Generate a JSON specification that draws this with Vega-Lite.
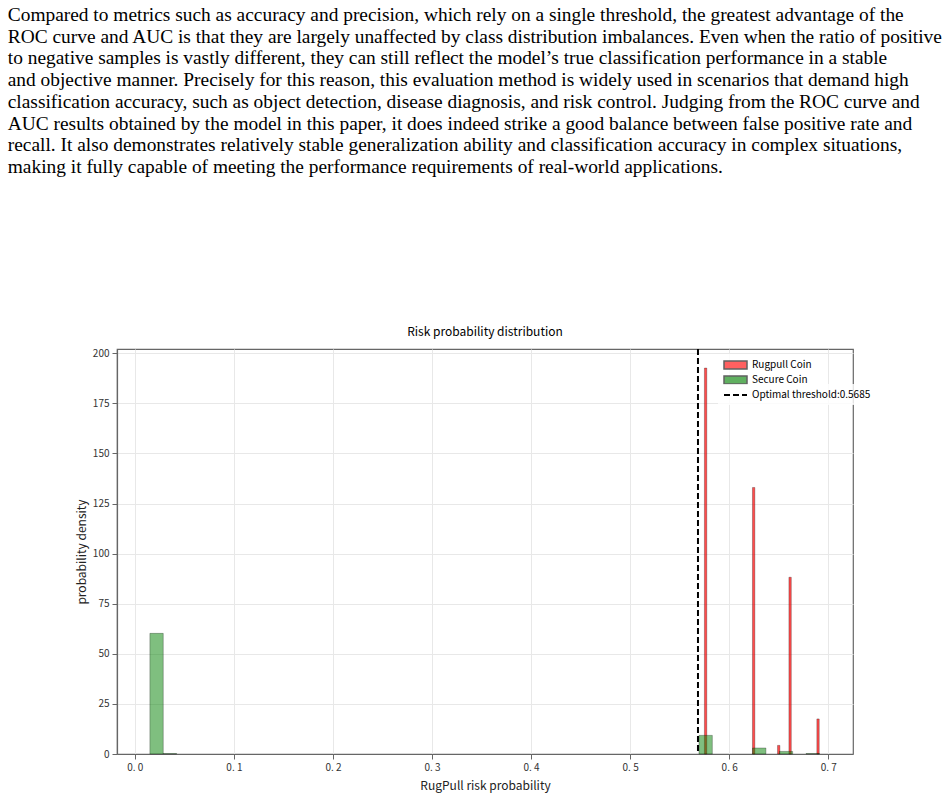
{
  "$schema": "https://vega.github.io/schema/vega-lite/v6.json",
  "background": "white",
  "padding": {"left": 7, "top": 5, "right": 5, "bottom": 5},
  "title": {
    "text": [
      "Compared to metrics such as accuracy and precision, which rely on a single threshold, the greatest advantage of the",
      "ROC curve and AUC is that they are largely unaffected by class distribution imbalances. Even when the ratio of positive",
      "to negative samples is vastly different, they can still reflect the model’s true classification performance in a stable",
      "and objective manner. Precisely for this reason, this evaluation method is widely used in scenarios that demand high",
      "classification accuracy, such as object detection, disease diagnosis, and risk control. Judging from the ROC curve and",
      "AUC results obtained by the model in this paper, it does indeed strike a good balance between false positive rate and",
      "recall. It also demonstrates relatively stable generalization ability and classification accuracy in complex situations,",
      "making it fully capable of meeting the performance requirements of real-world applications."
    ],
    "anchor": "start",
    "frame": "bounds",
    "dx": -67,
    "offset": 148,
    "font": "Liberation Serif",
    "fontSize": 19.4,
    "fontWeight": "normal",
    "lineHeight": 21.7,
    "color": "black"
  },
  "vconcat": [
    {
      "width": 736,
      "height": 405,
      "title": {
        "text": "Risk probability distribution",
        "font": "Noto Sans CJK SC",
        "fontSize": 12,
        "fontWeight": "normal",
        "color": "black",
        "offset": 9
      },
      "layer": [
        {
          "data": {
            "values": [
              {"series": "Rugpull Coin", "x0": 0.5750, "x1": 0.5774, "density": 192.6},
              {"series": "Rugpull Coin", "x0": 0.6235, "x1": 0.6259, "density": 133.0},
              {"series": "Rugpull Coin", "x0": 0.6488, "x1": 0.6512, "density": 4.3},
              {"series": "Rugpull Coin", "x0": 0.6603, "x1": 0.6627, "density": 88.2},
              {"series": "Rugpull Coin", "x0": 0.6885, "x1": 0.6909, "density": 17.5},
              {"series": "Secure Coin", "x0": 0.0152, "x1": 0.0287, "density": 60.2},
              {"series": "Secure Coin", "x0": 0.0287, "x1": 0.0422, "density": 0.25},
              {"series": "Secure Coin", "x0": 0.5695, "x1": 0.5830, "density": 9.3},
              {"series": "Secure Coin", "x0": 0.6236, "x1": 0.6371, "density": 3.0},
              {"series": "Secure Coin", "x0": 0.6506, "x1": 0.6641, "density": 1.3},
              {"series": "Secure Coin", "x0": 0.6776, "x1": 0.6911, "density": 0.25}
            ]
          },
          "mark": {"type": "bar", "stroke": "black", "strokeOpacity": 0.45, "strokeWidth": 0.6},
          "encoding": {
            "x": {
              "field": "x0",
              "type": "quantitative",
              "title": "RugPull risk probability",
              "scale": {"domain": [-0.018, 0.725], "nice": false, "zero": false},
              "axis": {
                "values": [0, 0.1, 0.2, 0.3, 0.4, 0.5, 0.6, 0.7],
                "labelExpr": "replace(format(datum.value, '.1f'), '.', '. ')"
              }
            },
            "x2": {"field": "x1"},
            "y": {
              "field": "density",
              "type": "quantitative",
              "title": "probability density",
              "scale": {"domain": [0, 202.1], "nice": false},
              "axis": {"values": [0, 25, 50, 75, 100, 125, 150, 175, 200]}
            },
            "y2": {"datum": 0},
            "color": {
              "field": "series",
              "type": "nominal",
              "scale": {"domain": ["Rugpull Coin", "Secure Coin"], "range": ["red", "green"]},
              "legend": {
                "title": null,
                "orient": "none",
                "legendX": 601,
                "legendY": 5,
                "padding": 5,
                "fillColor": "rgba(255,255,255,0.8)",
                "labelFont": "Noto Sans CJK SC",
                "labelFontSize": 10,
                "labelColor": "black",
                "symbolOffset": 6.5,
                "labelOffset": 10.5,
                "rowPadding": 1,
                "symbolType": "M-2.3,-0.8H2.3V0.8H-2.3Z",
                "symbolSize": 100,
                "symbolOpacity": 0.62
              }
            },
            "fillOpacity": {
              "field": "series",
              "type": "nominal",
              "scale": {"domain": ["Rugpull Coin", "Secure Coin"], "range": [0.7, 0.5]},
              "legend": null
            }
          }
        },
        {
          "data": {"values": [{"line": "Optimal threshold:0.5685", "threshold": 0.5685}]},
          "mark": {"type": "rule", "color": "black", "strokeWidth": 2},
          "encoding": {
            "x": {"field": "threshold", "type": "quantitative"},
            "strokeDash": {
              "field": "line",
              "type": "nominal",
              "scale": {"range": [[6, 3]]},
              "legend": {
                "title": null,
                "orient": "none",
                "legendX": 601,
                "legendY": 35,
                "padding": 5,
                "fillColor": "rgba(255,255,255,0.8)",
                "labelFont": "Noto Sans CJK SC",
                "labelFontSize": 10,
                "labelColor": "black",
                "symbolOffset": 6.5,
                "labelOffset": 10.5,
                "symbolType": "M-2.3,0H2.3",
                "symbolSize": 100,
                "symbolStrokeColor": "black",
                "symbolStrokeWidth": 2
              }
            }
          }
        }
      ]
    }
  ],
  "config": {
    "font": "Noto Sans CJK SC",
    "view": {"stroke": "#666666", "strokeWidth": 1.2},
    "axis": {
      "labelFontSize": 10,
      "labelColor": "#333333",
      "labelFont": "Noto Sans CJK SC",
      "titleFont": "Noto Sans CJK SC",
      "titleFontSize": 12,
      "titleFontWeight": "normal",
      "titleColor": "#222222",
      "domainColor": "#666666",
      "domainWidth": 1.2,
      "tickColor": "#666666",
      "tickSize": 5,
      "labelPadding": 3,
      "gridColor": "#e8e8e8",
      "grid": true
    },
    "axisX": {"titlePadding": 8},
    "axisY": {"titlePadding": 4}
  }
}
